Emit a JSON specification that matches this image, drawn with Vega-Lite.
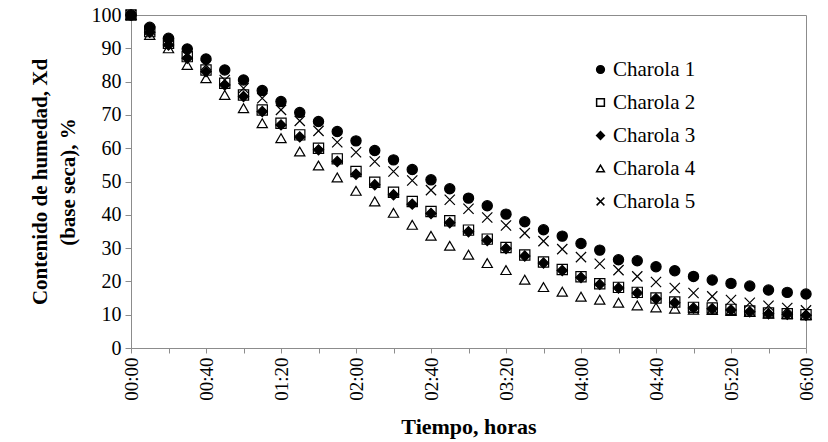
{
  "$schema": "https://vega.github.io/schema/vega-lite/v6.json",
  "width": 675,
  "height": 333,
  "autosize": "none",
  "padding": {"left": 131, "top": 15, "right": 22, "bottom": 94},
  "background": "white",
  "config": {
    "view": {"stroke": "#8c8c8c", "strokeWidth": 1},
    "font": "Liberation Serif"
  },
  "datasets": {
    "wide": [
      {"t": 0, "c1": 100, "c2": 100, "c3": 100, "c4": 100, "c5": 100},
      {"t": 10, "c1": 96.3, "c2": 95, "c3": 94.8, "c4": 94, "c5": 95.5},
      {"t": 20, "c1": 93, "c2": 91.5, "c3": 91, "c4": 90, "c5": 92},
      {"t": 30, "c1": 89.8, "c2": 87.5, "c3": 87, "c4": 85, "c5": 88.5},
      {"t": 40, "c1": 86.8, "c2": 83.5, "c3": 83, "c4": 81, "c5": 85},
      {"t": 50, "c1": 83.5, "c2": 79.5, "c3": 79, "c4": 76, "c5": 80.5},
      {"t": 60, "c1": 80.5, "c2": 76, "c3": 75.5, "c4": 72, "c5": 78},
      {"t": 70, "c1": 77.3, "c2": 71.5, "c3": 71, "c4": 67.5, "c5": 75},
      {"t": 80, "c1": 74, "c2": 67.5, "c3": 67, "c4": 63, "c5": 71.5},
      {"t": 90, "c1": 70.7, "c2": 64, "c3": 63.4, "c4": 59, "c5": 68.2},
      {"t": 100, "c1": 68, "c2": 60, "c3": 59.5, "c4": 54.8, "c5": 65.2},
      {"t": 110, "c1": 65, "c2": 56.8, "c3": 56, "c4": 51.2, "c5": 61.8},
      {"t": 120, "c1": 62.2, "c2": 53, "c3": 52.2, "c4": 47.2, "c5": 58.8},
      {"t": 130, "c1": 59.3, "c2": 49.8, "c3": 49, "c4": 44, "c5": 56},
      {"t": 140, "c1": 56.5, "c2": 46.8, "c3": 46, "c4": 40.6, "c5": 53},
      {"t": 150, "c1": 53.6, "c2": 44, "c3": 43.2, "c4": 37, "c5": 50.3},
      {"t": 160, "c1": 50.5, "c2": 41, "c3": 40.4, "c4": 33.7, "c5": 47.4},
      {"t": 170, "c1": 47.8, "c2": 38.2, "c3": 37.6, "c4": 30.7, "c5": 44.5},
      {"t": 180, "c1": 45, "c2": 35.4, "c3": 34.9, "c4": 28, "c5": 41.8},
      {"t": 190, "c1": 42.7, "c2": 32.7, "c3": 32.3, "c4": 25.5, "c5": 39.2},
      {"t": 200, "c1": 40.2, "c2": 30.2, "c3": 29.9, "c4": 23.4, "c5": 36.8},
      {"t": 210, "c1": 37.9, "c2": 27.9, "c3": 27.6, "c4": 20.5, "c5": 34.5},
      {"t": 220, "c1": 35.5, "c2": 25.8, "c3": 25.5, "c4": 18.3, "c5": 32.1},
      {"t": 230, "c1": 33.6, "c2": 23.6, "c3": 23.3, "c4": 16.9, "c5": 29.7},
      {"t": 240, "c1": 31.4, "c2": 21.4, "c3": 21.2, "c4": 15.4, "c5": 27.3},
      {"t": 250, "c1": 29.4, "c2": 19.3, "c3": 19.1, "c4": 14.5, "c5": 25.3},
      {"t": 260, "c1": 26.5, "c2": 18.2, "c3": 18, "c4": 13.6, "c5": 23.4},
      {"t": 270, "c1": 26.2, "c2": 16.7, "c3": 16.5, "c4": 12.8, "c5": 21.5},
      {"t": 280, "c1": 24.4, "c2": 15, "c3": 14.8, "c4": 12.2, "c5": 19.8},
      {"t": 290, "c1": 23.2, "c2": 13.8, "c3": 13.6, "c4": 11.8, "c5": 18},
      {"t": 300, "c1": 21.5, "c2": 12.2, "c3": 12, "c4": 11.5, "c5": 16.5},
      {"t": 310, "c1": 20.4, "c2": 12, "c3": 11.8, "c4": 11.4, "c5": 15.5},
      {"t": 320, "c1": 19.4, "c2": 11.6, "c3": 11.4, "c4": 11.1, "c5": 14.4},
      {"t": 330, "c1": 18.6, "c2": 11.1, "c3": 10.9, "c4": 10.8, "c5": 13.6},
      {"t": 340, "c1": 17.4, "c2": 10.5, "c3": 10.3, "c4": 10.4, "c5": 12.7},
      {"t": 350, "c1": 16.7, "c2": 10.3, "c3": 10.1, "c4": 10.2, "c5": 12},
      {"t": 360, "c1": 16.2, "c2": 10, "c3": 9.8, "c4": 9.9, "c5": 11.3}
    ]
  },
  "data": {"name": "wide"},
  "transform": [
    {"fold": ["c4", "c2", "c3", "c5", "c1"], "as": ["key", "xd"]},
    {"lookup": "key", "from": {"data": {"values": [
      {"key": "c1", "serie": "Charola 1"},
      {"key": "c2", "serie": "Charola 2"},
      {"key": "c3", "serie": "Charola 3"},
      {"key": "c4", "serie": "Charola 4"},
      {"key": "c5", "serie": "Charola 5"}
    ]}, "key": "key", "fields": ["serie"]}}
  ],
  "mark": {"type": "point", "size": 105, "strokeWidth": 1.2, "opacity": 1, "stroke": "black"},
  "encoding": {
    "x": {
      "field": "t", "type": "quantitative",
      "scale": {"domain": [0, 360], "nice": false, "zero": false},
      "axis": {
        "title": "Tiempo, horas",
        "values": [0, 20, 40, 60, 80, 100, 120, 140, 160, 180, 200, 220, 240, 260, 280, 300, 320, 340, 360],
        "labelExpr": "datum.value % 40 == 0 ? (floor(datum.value/60) < 10 ? '0' : '') + floor(datum.value/60) + ':' + ((datum.value % 60) < 10 ? '0' : '') + (datum.value % 60) : ''",
        "labelAngle": -90,
        "labelAlign": "right",
        "labelBaseline": "middle",
        "labelFont": "Liberation Serif",
        "labelFontSize": 19,
        "labelColor": "black",
        "labelPadding": 4,
        "labelOverlap": false,
        "labelFlush": false,
        "grid": false,
        "domainColor": "#8c8c8c",
        "tickColor": "#8c8c8c",
        "tickSize": 5,
        "titleFont": "Liberation Serif",
        "titleFontSize": 22,
        "titleFontWeight": "bold",
        "titleColor": "black",
        "titlePadding": 16
      }
    },
    "y": {
      "field": "xd", "type": "quantitative",
      "scale": {"domain": [0, 100], "nice": false},
      "axis": {
        "title": ["Contenido de humedad, Xd", "(base seca),  %"],
        "values": [0, 10, 20, 30, 40, 50, 60, 70, 80, 90, 100],
        "labelFont": "Liberation Serif",
        "labelFontSize": 20,
        "labelColor": "black",
        "labelPadding": 4,
        "grid": false,
        "domainColor": "#8c8c8c",
        "tickColor": "#8c8c8c",
        "tickSize": 6,
        "titleFont": "Liberation Serif",
        "titleFontSize": 21,
        "titleFontWeight": "bold",
        "titleColor": "black",
        "titlePadding": 13,
        "titleLineHeight": 28
      }
    },
    "shape": {
      "field": "serie", "type": "nominal",
      "scale": {
        "domain": ["Charola 1", "Charola 2", "Charola 3", "Charola 4", "Charola 5"],
        "range": ["circle", "square", "diamond", "triangle-up", "M-1,-1L1,1M-1,1L1,-1"]
      },
      "legend": {
        "title": null,
        "orient": "none",
        "legendX": 459,
        "legendY": 44,
        "labelFont": "Liberation Serif",
        "labelFontSize": 21,
        "labelColor": "black",
        "rowPadding": 11,
        "symbolSize": 60,
        "labelOffset": 2,
        "encode": {
          "symbols": {
            "update": {
              "stroke": {"value": "black"},
              "strokeWidth": {"value": 1.2}
            }
          }
        }
      }
    },
    "fill": {
      "field": "serie", "type": "nominal",
      "scale": {
        "domain": ["Charola 1", "Charola 2", "Charola 3", "Charola 4", "Charola 5"],
        "range": ["black", "transparent", "black", "transparent", "transparent"]
      },
      "legend": null
    }
  }
}
